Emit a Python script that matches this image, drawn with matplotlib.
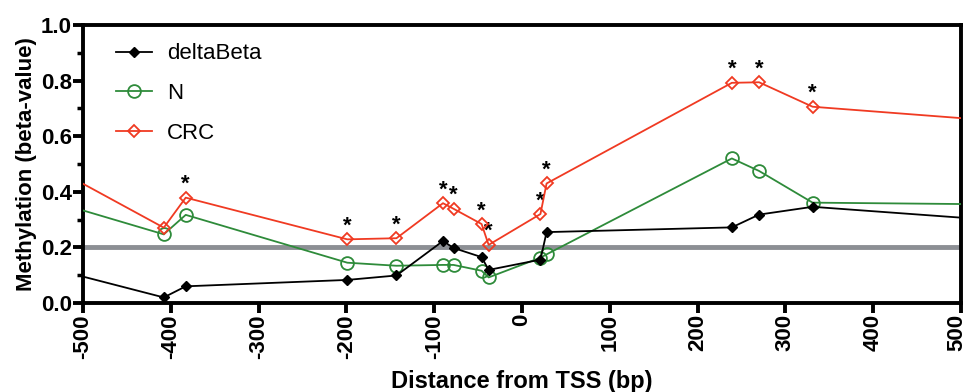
import matplotlib
matplotlib.use("Agg")
import matplotlib.pyplot as plt
import numpy as np

plt.rcParams['font.family'] = ['Liberation Sans', 'DejaVu Sans']
plt.rcParams['font.weight'] = 'bold'

# Distance from TSS (bp); first and last entries are the line ends at the axis limits
positions = [-500, -408, -383, -199, -143, -90, -78, -46, -38, 21, 28, 239, 270, 331, 500]
delta_beta = [0.095, 0.020, 0.060, 0.083, 0.099, 0.223, 0.198, 0.165, 0.119, 0.156, 0.255, 0.272, 0.318, 0.346, 0.307]
normal = [0.333, 0.247, 0.317, 0.145, 0.134, 0.137, 0.137, 0.116, 0.092, 0.163, 0.175, 0.520, 0.475, 0.361, 0.356]
crc = [0.429, 0.271, 0.379, 0.229, 0.233, 0.359, 0.339, 0.284, 0.209, 0.320, 0.430, 0.792, 0.794, 0.706, 0.665]
significant = [False, False, True, True, True, True, True, True, True, True, True, True, True, True, False]
threshold = 0.2
x_ticks = list(range(-500, 501, 100))
y_ticks = [0.0, 0.2, 0.4, 0.6, 0.8, 1.0]

fig = plt.figure(figsize=(9.69, 3.92), dpi=100)
ax = fig.add_axes([83/969, 1 - 303/392, (961 - 83)/969, (303 - 25)/392])

ax.axhline(threshold, color='#8c8f94', lw=3.5, zorder=1)

marks = list(range(1, len(positions) - 1))
ax.plot(positions, delta_beta, color='black', lw=1.3, marker='D', ms=5.6,
        mfc='black', mec='black', markevery=marks, label='deltaBeta', zorder=4)
ax.plot(positions, normal, color='#2e8b3a', lw=1.3, marker='o', ms=9.2,
        mfc='none', mec='#2e8b3a', mew=1.3, markevery=marks, label='N', zorder=3)
ax.plot(positions, crc, color='#f03a22', lw=1.3, marker='D', ms=6.0,
        mfc='none', mec='#f03a22', mew=1.3, markevery=marks, label='CRC', zorder=5)

for x, y, s in zip(positions, crc, significant):
    if s:
        ax.annotate('*', (x, y), xytext=(0, 2), textcoords='offset points',
                    ha='center', va='bottom', fontsize=16, fontweight='bold', color='black')

ax.set_xlim(-500, 500)
ax.set_ylim(0, 1.0)
ax.set_xticks(x_ticks)
# last label is drawn separately, slightly nudged so it stays inside the canvas
ax.set_xticklabels([str(t) for t in x_ticks[:-1]] + [''], rotation=90, fontsize=16, fontweight='bold')
ax.annotate(str(x_ticks[-1]), xy=(x_ticks[-1], 0), xycoords=('data', 'axes fraction'),
            xytext=(-3.3, -8), textcoords='offset points', rotation=90,
            ha='center', va='top', fontsize=16, fontweight='bold', annotation_clip=False)
ax.set_yticks(y_ticks)
ax.set_yticklabels([f"{t:.1f}" for t in y_ticks], fontsize=16, fontweight='bold')
ax.set_yticks(np.arange(0.1, 1.0, 0.2), minor=True)

for sp in ax.spines.values():
    sp.set_linewidth(2.8)
ax.tick_params(axis='both', which='major', direction='out', length=7, width=2.8, pad=1)
ax.tick_params(axis='y', which='minor', direction='out', length=4, width=2.5)

ax.set_xlabel('Distance from TSS (bp)', fontsize=17, fontweight='bold', labelpad=8)
ax.set_ylabel('Methylation (beta-value)', fontsize=16, fontweight='bold', labelpad=3)

leg = ax.legend(loc='upper left', frameon=False, fontsize=16, handlelength=1.6,
                handletextpad=0.7, borderaxespad=0.3, labelspacing=0.85,
                bbox_to_anchor=(0.02, 0.99))
for t in leg.get_texts():
    t.set_fontweight('normal')

fig.savefig('out.png', dpi=100)
